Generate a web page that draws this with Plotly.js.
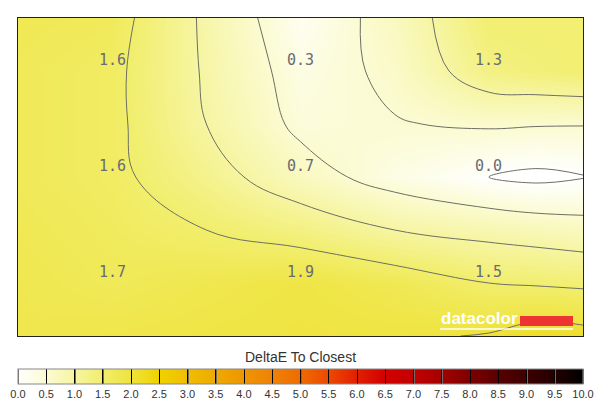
<!DOCTYPE html>
<html>
<head>
<meta charset="utf-8">
<script src="https://cdn.plot.ly/plotly-3.0.1.min.js"></script>
<style>
  html, body { margin: 0; padding: 0; background: #ffffff; }
  #chart { width: 600px; height: 411px; }
</style>
</head>
<body>
<div id="chart"></div>
<script>
// Measured DeltaE values (3x3 grid, rows top to bottom)
var rowTop    = [1.6, 0.3, 1.3];
var rowMiddle = [1.6, 0.7, 0.0];
var rowBottom = [1.7, 1.9, 1.5];

// Estimated surface values (contour positions / colours);
// null marks where a measured value sits.
var surfY00 = [1.75, 1.68, 0.92, 0.15, 0.70, 1.45, 1.45, 1.45];
var surfY05 = [1.70, null, 0.95, null, 0.59, null, 1.38, 1.45];
var surfY10 = [1.70, 1.60, 1.00, 0.40, 0.48, 0.55, 0.53, 0.52];
var surfY15 = [1.70, null, 1.20, null, 0.30, null, -0.10, -0.02];
var surfY20 = [1.75, 1.65, 1.50, 1.30, 1.00, 0.85, 0.78, 0.70];
var surfY25 = [1.80, null, 1.80, null, 1.75, null, 1.46, 1.42];
var surfY30 = [1.80, 1.85, 1.90, 1.95, 1.93, 2.03, 2.20, 2.15];

// Grid coordinates in panel units
var gridX = [0, 0.5, 1, 1.5, 2, 2.5, 2.75, 3];
var gridY = [0, 0.5, 1, 1.5, 2, 2.5, 3];
var cellX = [0.5, 1.5, 2.5];
var cellY = [0.5, 1.5, 2.5];

// Colour bar ticks
var tickVals = [0, 0.5, 1, 1.5, 2, 2.5, 3, 3.5, 4, 4.5, 5, 5.5, 6, 6.5, 7, 7.5, 8, 8.5, 9, 9.5, 10];
var tickText = ['0.0','0.5','1.0','1.5','2.0','2.5','3.0','3.5','4.0','4.5','5.0','5.5','6.0','6.5','7.0','7.5','8.0','8.5','9.0','9.5','10.0'];

var measured = [rowTop, rowMiddle, rowBottom];
var surfRows = [surfY00, surfY05, surfY10, surfY15, surfY20, surfY25, surfY30];
var z = surfRows.map(function (row, ri) {
  return row.map(function (v, ci) {
    if (v === null) return measured[cellY.indexOf(gridY[ri])][cellX.indexOf(gridX[ci])];
    return v;
  });
});

var colorscale = [
  [0.00, '#ffffff'], [0.05, '#fbfbd2'], [0.10, '#f6f5a2'], [0.15, '#f1ee6c'],
  [0.20, '#efe33c'], [0.25, '#f0d200'], [0.30, '#f0be00'], [0.35, '#eeaa00'],
  [0.40, '#ee9600'], [0.45, '#ee8208'], [0.50, '#ee6c00'], [0.55, '#ee4800'],
  [0.60, '#e02000'], [0.65, '#d20000'], [0.70, '#c30000'], [0.75, '#a50000'],
  [0.80, '#7d0000'], [0.85, '#5a0000'], [0.90, '#3c0000'], [0.95, '#230000'],
  [1.00, '#000000']
];

var trace = {
  type: 'contour',
  x: gridX,
  y: gridY,
  z: z,
  zmin: 0,
  zmax: 10,
  colorscale: colorscale,
  autocontour: false,
  contours: { start: 0, end: 10, size: 0.5, coloring: 'heatmap', showlines: true },
  line: { color: '#6e6e64', width: 1, smoothing: 1.1 },
  hoverinfo: 'skip',
  colorbar: {
    orientation: 'h',
    lenmode: 'pixels', len: 565,
    thicknessmode: 'pixels', thickness: 15,
    x: 0.5, xanchor: 'center',
    y: -0.104, yanchor: 'top',
    xpad: 0, ypad: 0,
    outlinewidth: 1, outlinecolor: '#888888',
    tickmode: 'array', tickvals: tickVals, ticktext: tickText,
    ticks: 'inside', ticklen: 15, tickwidth: 1, tickcolor: '#000000',
    tickfont: { family: 'Liberation Sans, Arial, sans-serif', size: 11, color: '#333333' }
  }
};

var annotations = [];
for (var i = 0; i < 3; i++) {
  for (var j = 0; j < 3; j++) {
    annotations.push({
      x: cellX[j], y: cellY[i], xref: 'x', yref: 'y',
      text: measured[i][j].toFixed(1),
      showarrow: false, yshift: 11,
      font: { family: 'DejaVu Sans Mono, monospace', size: 15, color: '#6a6a74' }
    });
  }
}
annotations.push({
  xref: 'paper', yref: 'paper', x: 0.5, y: -0.066, yanchor: 'middle',
  text: 'DeltaE To Closest', showarrow: false,
  font: { family: 'Liberation Sans, Arial, sans-serif', size: 14, color: '#333333' }
});
annotations.push({
  xref: 'paper', yref: 'paper', x: 0.745, xanchor: 'left', y: 0.055, yanchor: 'middle',
  text: '<b>datacolor</b>', showarrow: false,
  font: { family: 'Liberation Sans, Arial, sans-serif', size: 17, color: '#ffffff' }
});

var shapes = [
  { type: 'rect', xref: 'paper', yref: 'paper', x0: 0.8885, x1: 0.9823, y0: 0.0314, y1: 0.0629,
    fillcolor: '#ee3333', line: { width: 0 } },
  { type: 'line', xref: 'paper', yref: 'paper', x0: 0.7469, x1: 0.9823, y0: 0.0220, y1: 0.0220,
    line: { color: '#ffffff', width: 1.5 } }
];

var layout = {
  width: 600, height: 411,
  margin: { l: 18, r: 17, t: 18, b: 75, pad: 0, autoexpand: false },
  paper_bgcolor: '#ffffff', plot_bgcolor: '#ffffff',
  xaxis: { range: [0, 3], dtick: 1, tick0: 0, showgrid: true, gridcolor: '#c4c4c4', gridwidth: 1,
           showticklabels: false, ticks: '', zeroline: false, showline: true, mirror: true,
           linecolor: '#222222', linewidth: 1, fixedrange: true },
  yaxis: { range: [3, 0], dtick: 1, tick0: 0, showgrid: true, gridcolor: '#c4c4c4', gridwidth: 1,
           showticklabels: false, ticks: '', zeroline: false, showline: true, mirror: true,
           linecolor: '#222222', linewidth: 1, fixedrange: true },
  annotations: annotations,
  shapes: shapes,
  showlegend: false
};

Plotly.newPlot('chart', [trace], layout, { displayModeBar: false, staticPlot: true });
</script>
</body>
</html>
